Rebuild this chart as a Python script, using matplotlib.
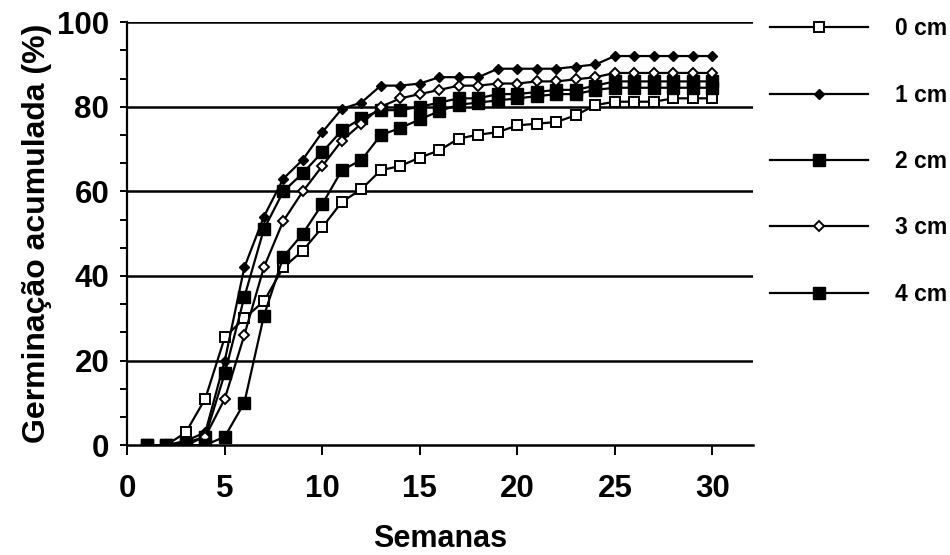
import matplotlib
matplotlib.use("Agg")
import matplotlib.pyplot as plt
from matplotlib.ticker import MultipleLocator

plt.rcParams['font.family'] = ['Liberation Sans', 'DejaVu Sans']
plt.rcParams['font.weight'] = 'bold'

#%% ---- DATA
semanas = list(range(1, 31))
g_0cm = [0, 0, 3, 11, 25.5, 30, 34, 42, 46, 51.5, 57.5, 60.5, 65, 66, 68,
         69.7, 72.5, 73.4, 74, 75.6, 76, 76.4, 78, 80.4, 81.2, 81.2, 81.2, 82, 82, 82]
g_1cm = [0, 0, 1, 3, 20, 42, 54, 63, 67.5, 74, 79.5, 81, 85, 85, 85.5,
         87, 87, 87, 89, 89, 89, 89, 89.5, 90, 92, 92, 92, 92, 92, 92]
g_2cm = [0, 0, 0.5, 2, 17, 35, 51, 60, 64.3, 69.3, 74.4, 77.3, 79.2, 79.2, 80,
         81, 82, 82, 83, 83, 83.5, 84, 84, 85, 86, 86, 86, 86, 86, 86]
g_3cm = [0, 0, 0, 2, 11, 26, 42, 53, 60, 66, 72, 76, 80, 82, 83,
         84, 85, 85, 85.5, 85.5, 86, 86, 86.5, 87, 88, 88, 88, 88, 88, 88]
g_4cm = [0, 0, 0, 0, 2, 10, 30.5, 44.5, 50, 57, 65, 67.4, 73.3, 75, 77,
         79, 80.5, 81, 81.5, 82, 82.5, 83, 83, 84, 84.5, 84.5, 84.5, 84.5, 84.5, 84.5]
rotulos = ["0 cm", "1 cm", "2 cm", "3 cm", "4 cm"]

#%% ---- PLOT
fig = plt.figure(figsize=(9.5, 5.55), dpi=100)
ax = fig.add_axes([0.134, 0.198, 0.659, 0.762])

for y in [20, 40, 60, 80, 100]:
    ax.axhline(y, color='black', lw=1.8, zorder=1)

estilo = dict(color='black', lw=1.6, zorder=3)
ax.plot(semanas, g_0cm, marker='s', ms=6.5, mfc='white', mec='black', mew=1.4, label=rotulos[0], **estilo)
ax.plot(semanas, g_1cm, marker='D', ms=5.5, mfc='black', mec='black', label=rotulos[1], **estilo)
ax.plot(semanas, g_2cm, marker='s', ms=8, mfc='black', mec='black', label=rotulos[2], **estilo)
ax.plot(semanas, g_3cm, marker='D', ms=5, mfc='white', mec='black', mew=1.4, label=rotulos[3], **estilo)
ax.plot(semanas, g_4cm, marker='s', ms=8, mfc='black', mec='black', label=rotulos[4], **estilo)

ax.set_xlim(0, 32.1)
ax.set_ylim(0, 100)
ax.spines['top'].set_visible(False)
ax.spines['right'].set_visible(False)
ax.spines['left'].set_linewidth(1.6)
ax.spines['bottom'].set_linewidth(1.8)

ax.set_xticks(range(0, 31, 5))
ax.yaxis.set_major_locator(MultipleLocator(20))
ax.yaxis.set_minor_locator(MultipleLocator(20 / 3))
ax.tick_params(axis='both', direction='out', width=1.4, labelsize=22.5)
ax.tick_params(axis='x', length=7, pad=14)
ax.tick_params(axis='y', length=5, pad=8)
ax.tick_params(axis='y', which='minor', length=5, width=1.4)

ax.set_xlabel("Semanas", fontsize=22, fontweight='bold', labelpad=14)
ax.set_ylabel("Germinação acumulada (%)", fontsize=23, fontweight='bold', labelpad=4)

fig.legend(loc='upper left', bbox_to_anchor=(0.789, 1.006), frameon=False,
           handlelength=4.25, handletextpad=1.2, labelspacing=1.89,
           prop={'weight': 'bold', 'size': 16.5})

plt.savefig("out.png", dpi=100)
